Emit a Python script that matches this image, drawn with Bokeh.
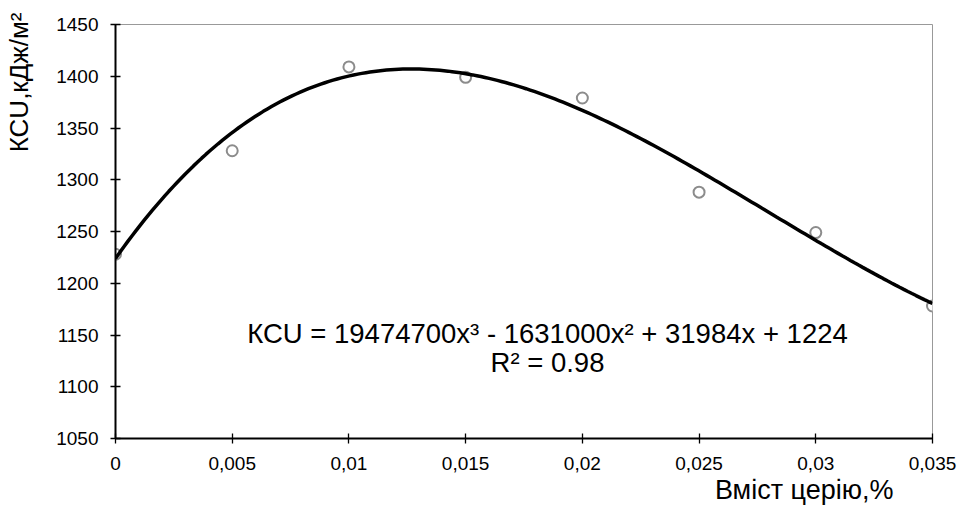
import numpy as np
from bokeh.plotting import figure
from bokeh.models import Label, FixedTicker, Range1d, Title
from bokeh.embed import file_html
from bokeh.resources import INLINE

# data
cerium = [0.0, 0.005, 0.01, 0.015, 0.02, 0.025, 0.03, 0.035]
kcu = [1228, 1328, 1409, 1399, 1379, 1288, 1249, 1178]
# trendline coefficients as printed on the chart (x^3, x^2, x, 1)
trend_coef = [19474700, -1631000, 31984, 1224]
x_ticks = [0.0, 0.005, 0.01, 0.015, 0.02, 0.025, 0.03, 0.035]
x_tick_labels = ["0", "0,005", "0,01", "0,015", "0,02", "0,025", "0,03", "0,035"]
y_ticks = [1050, 1100, 1150, 1200, 1250, 1300, 1350, 1400, 1450]
eq_text = "КСU = 19474700x³ - 1631000x² + 31984x + 1224"
r2_text = "R² = 0.98"
x_title = "Вміст церію,%"
y_title = "КСU,кДж/м²"

FONT = "Liberation Sans"

p = figure(width=961, height=507, output_backend="svg", toolbar_location=None,
           x_range=Range1d(0, 0.035), y_range=Range1d(1050, 1450),
           min_border_left=115, min_border_right=29, min_border_top=24, min_border_bottom=69)
p.grid.visible = False
p.outline_line_color = "#999999"
p.outline_line_width = 1
p.background_fill_color = "white"
p.border_fill_color = "white"

for ax in (p.xaxis[0], p.yaxis[0]):
    ax.axis_line_color = "black"
    ax.axis_line_width = 2
    ax.major_tick_line_color = "black"
    ax.major_tick_line_width = 1.3
    ax.major_tick_in = 5
    ax.major_tick_out = 5
    ax.minor_tick_line_color = None
    ax.major_label_text_font = FONT
    ax.major_label_text_font_size = "19px"
    ax.major_label_text_color = "black"

p.xaxis[0].ticker = FixedTicker(ticks=x_ticks)
p.xaxis[0].major_label_overrides = {t: l for t, l in zip(x_ticks, x_tick_labels)}
p.xaxis[0].major_label_standoff = 13
p.yaxis[0].ticker = FixedTicker(ticks=y_ticks)
p.yaxis[0].major_label_standoff = 12
# invisible spacer label that pushes the y title outward
p.yaxis[0].axis_label = "\u00a0"
p.yaxis[0].axis_label_text_font_size = "2px"
p.yaxis[0].axis_label_standoff = 12

# data points (drawn beneath the trendline)
p.scatter(cerium, kcu, size=11, marker="circle", fill_color="white",
          line_color="#8c8c8c", line_width=2)

# trendline
xs = np.linspace(0, 0.035, 200)
ys = np.polyval(trend_coef, xs)
p.line(xs, ys, line_color="black", line_width=3.5)

p.add_layout(Label(x=432, y=105, x_units="screen", y_units="screen", text=eq_text,
                   text_font=FONT, text_font_size="27.5px", text_align="center",
                   text_baseline="middle", text_color="black"))
p.add_layout(Label(x=432, y=76, x_units="screen", y_units="screen", text=r2_text,
                   text_font=FONT, text_font_size="27.5px", text_align="center",
                   text_baseline="middle", text_color="black"))

p.add_layout(Title(text=x_title, align="right", offset=39, standoff=0, text_font=FONT,
                   text_font_size="27px", text_font_style="normal", text_color="black"), "below")
p.add_layout(Title(text=y_title, align="right", offset=-12, standoff=3, text_font=FONT,
                   text_font_size="26px", text_font_style="normal", text_color="black"), "left")

open("out.html", "w").write(file_html(p, INLINE))
